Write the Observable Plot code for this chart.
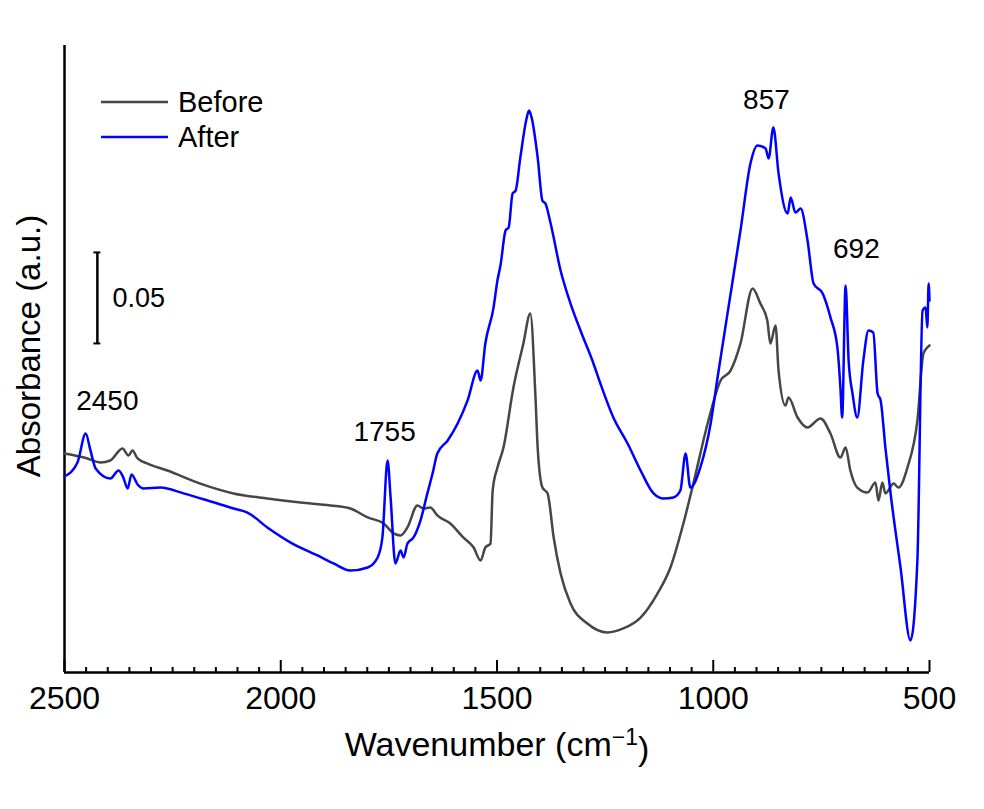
<!DOCTYPE html>
<html><head><meta charset="utf-8">
<script src="https://cdn.jsdelivr.net/npm/d3@7"></script>
<script src="https://cdn.jsdelivr.net/npm/@observablehq/plot@0.6"></script>
<style>body{margin:0;background:#fff;} #chart svg{display:block;}</style>
</head><body><div id="chart"></div>
<script>
// ---- data (wavenumber in cm-1, absorbance in a.u.) ----
const beforeWn = [2500,2447,2417,2394,2366,2352,2343,2331,2308,2262,2186,2109,2031,1954,1885,1839,1799,1762,1739,1723,1707,1684,1670,1654,1638,1608,1578,1554,1538,1527,1515,1510,1499,1485,1462,1439,1423,1411,1406,1395,1383,1369,1353,1330,1291,1245,1208,1168,1129,1099,1069,1046,1013,983,960,937,909,891,875,868,856,849,833,826,805,782,752,729,706,694,683,667,643,625,618,609,602,583,572,551,528,514,505,500];
const beforeAbs = [.1203,.1176,.1154,.1165,.1231,.1192,.1220,.1176,.1148,.1110,.1038,.0984,.0956,.0934,.0918,.0901,.0852,.0819,.0764,.0753,.0797,.0918,.0901,.0907,.0863,.0819,.0742,.0687,.0615,.0687,.0709,.1000,.1126,.1236,.1566,.1808,.1973,.1511,.1236,.1016,.0984,.0742,.0544,.0379,.0269,.0220,.0242,.0302,.0434,.0577,.0819,.1038,.1368,.1604,.1659,.1808,.2110,.2027,.1934,.1808,.1907,.1659,.1467,.1511,.1401,.1346,.1396,.1313,.1181,.1236,.1110,.1016,.0989,.1044,.0945,.1044,.0984,.1038,.1016,.1126,.1385,.1753,.1786,.1797];
const afterWn = [2500,2470,2451,2440,2428,2394,2375,2364,2354,2345,2331,2317,2278,2225,2169,2109,2077,2031,1977,1915,1878,1839,1799,1776,1765,1753,1746,1735,1723,1716,1707,1693,1677,1661,1649,1638,1614,1591,1568,1545,1538,1527,1508,1499,1492,1480,1473,1464,1457,1446,1432,1426,1420,1406,1395,1388,1376,1353,1330,1307,1277,1261,1231,1198,1168,1138,1115,1092,1076,1064,1053,1030,1006,990,967,937,914,898,879,872,861,849,828,821,810,798,782,768,747,729,713,706,702,694,687,678,667,653,641,630,620,613,602,590,567,544,528,516,509,505,502,500];
const afterAbs = [.1077,.1154,.1313,.1220,.1121,.1066,.1110,.1071,.1011,.1088,.1033,.1011,.1016,.0984,.0945,.0901,.0879,.0797,.0714,.0643,.0599,.0560,.0577,.0632,.0742,.1165,.0962,.0599,.0670,.0632,.0709,.0742,.0835,.0984,.1093,.1203,.1275,.1368,.1495,.1659,.1604,.1808,.2005,.2154,.2236,.2429,.2445,.2632,.2648,.2830,.3040,.3088,.3050,.2830,.2593,.2577,.2467,.2209,.2027,.1879,.1698,.1588,.1401,.1258,.1110,.0984,.0956,.0962,.1000,.1203,.1016,.1126,.1368,.1621,.1973,.2429,.2797,.2896,.2879,.2824,.2995,.2742,.2522,.2610,.2527,.2549,.2374,.2137,.2082,.1951,.1786,.1566,.1401,.2126,.1714,.1533,.1401,.1714,.1879,.1868,.1533,.1495,.1236,.0984,.0577,.0176,.0615,.1989,.2005,.1896,.2137,.2044];

const seriesNames = ["Before", "After"];
const seriesColors = ["#464646", "#0000ff"];

const peakLabels = ["2450", "1755", "857", "692"];
const peakLabelWn = [2401, 1760, 877, 669];
const peakLabelAbs = [0.1489, 0.1319, 0.3143, 0.2324];

const majorTicks = [2500, 2000, 1500, 1000, 500];
const minorTicks = d3.range(500, 2501, 50).filter(v => v % 500 !== 0);

const scaleBarWn = 2424;
const scaleBarBottom = 0.1808;
const scaleBarLength = 0.05;
const scaleBarLabel = "0.05";

// ---- layout ----
const W = 984, H = 809;
const mL = 64, mR = 55, mT = 45, mB = 137;
const frameH = H - mT - mB;
const font = "'Liberation Sans', Arial, Helvetica, sans-serif";

const before = beforeWn.map((wn, i) => ({wn, abs: beforeAbs[i]}));
const after = afterWn.map((wn, i) => ({wn, abs: afterAbs[i]}));
const peaks = peakLabels.map((label, i) => ({label, wn: peakLabelWn[i], abs: peakLabelAbs[i]}));
const bar = [{wn: scaleBarWn, y1: scaleBarBottom, y2: scaleBarBottom + scaleBarLength}];
const barEnds = [scaleBarBottom, scaleBarBottom + scaleBarLength];

const plot = Plot.plot({
  width: W, height: H,
  marginLeft: mL, marginRight: mR, marginTop: mT, marginBottom: mB,
  style: {fontFamily: font, background: "white", color: "black"},
  x: {domain: [2500, 500], axis: null},
  y: {domain: [0, 0.3445], axis: null},
  marks: [
    Plot.tickX(minorTicks, {x: d => d, insetTop: frameH - 5, stroke: "black", strokeWidth: 2}),
    Plot.tickX(majorTicks, {x: d => d, insetTop: frameH - 12, stroke: "black", strokeWidth: 2}),
    Plot.ruleX([2500], {stroke: "black", strokeWidth: 2.5}),
    Plot.ruleY([0], {stroke: "black", strokeWidth: 2.5}),
    Plot.line(before, {x: "wn", y: "abs", curve: "monotone-x", stroke: seriesColors[0], strokeWidth: 2.5, strokeLinejoin: "round"}),
    Plot.line(after, {x: "wn", y: "abs", curve: "monotone-x", stroke: seriesColors[1], strokeWidth: 2.5, strokeLinejoin: "round"}),
    Plot.text(majorTicks, {x: d => d, text: d => String(d), frameAnchor: "bottom", dy: 36, fontSize: 32, fill: "black"}),
    Plot.text(["Wavenumber (cm−1)"], {frameAnchor: "bottom", textAnchor: "middle", dy: 83, fontSize: 34, fill: "black", className: "xtitle"}),
    Plot.text(["Absorbance (a.u.)"], {frameAnchor: "left", textAnchor: "middle", rotate: -90, dx: -35, dy: -13, fontSize: 33, fill: "black"}),
    Plot.text(peaks, {x: "wn", y: "abs", text: "label", fontSize: 28, fill: "black"}),
    Plot.ruleX(bar, {x: "wn", y1: "y1", y2: "y2", stroke: "black", strokeWidth: 2.5}),
    Plot.ruleY(barEnds, {y: d => d, x1: scaleBarWn + 8, x2: scaleBarWn - 8, stroke: "black", strokeWidth: 2}),
    Plot.text([scaleBarLabel], {x: scaleBarWn - 35, y: scaleBarBottom + scaleBarLength / 2, text: d => d, textAnchor: "start", fontSize: 27, fill: "black"})
  ]
});

// superscript in x title
const xt = d3.select(plot).select("g.xtitle text");
if (!xt.empty()) {
  xt.text(null);
  xt.append("tspan").text("Wavenumber (cm");
  xt.append("tspan").attr("dy", "-0.45em").attr("font-size", 23).text("−1");
  xt.append("tspan").attr("dy", "0.45em").text(")");
}

// legend inside the frame (top-left)
const svg = d3.select(plot);
const lg = svg.append("g").attr("font-family", font).attr("text-anchor", "start");
seriesNames.forEach((name, i) => {
  const y = mT + 57 + i * 35;
  lg.append("line").attr("x1", mL + 37).attr("x2", mL + 104).attr("y1", y).attr("y2", y)
    .attr("stroke", seriesColors[i]).attr("stroke-width", 2.5);
  lg.append("text").attr("x", mL + 114).attr("y", y).attr("dy", "0.35em")
    .attr("text-anchor", "start").attr("font-size", 29).attr("fill", "black").text(name);
});

document.getElementById("chart").append(plot);
</script>
</body></html>
